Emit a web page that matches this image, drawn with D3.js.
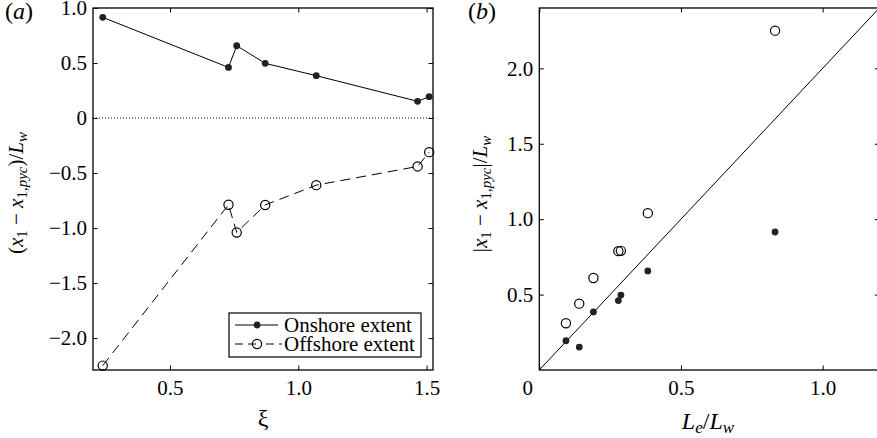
<!DOCTYPE html>
<meta charset="utf-8">
<script src="https://d3js.org/d3.v7.min.js"></script>
<style>
  body { margin: 0; background: #fff; }
  text { font-family: "Liberation Serif", "Times New Roman", serif; fill: #000; }
  .axis path { display: none; }
  .axis line { stroke: #000; stroke-width: 1; }
  .axis text { font-size: 21px; }
</style>
<div id="my_dataviz"></div>
<script>

  // data (same seven runs in both panels)
  var xi       = [0.238, 0.728, 0.76, 0.871, 1.07, 1.465, 1.51];
  var onshore  = [0.915, 0.46, 0.657, 0.497, 0.385, 0.152, 0.194];
  var offshore = [-2.25, -0.788, -1.04, -0.79, -0.61, -0.44, -0.31];
  var leLw     = [0.832, 0.279, 0.383, 0.288, 0.191, 0.141, 0.094];
  var refSlope = 2;

  var xTicksA = [0.5, 1.0, 1.5];
  var yTicksA = [1.0, 0.5, 0, -0.5, -1.0, -1.5, -2.0];
  var xTicksB = [0, 0.5, 1.0];
  var yTicksB = [0.5, 1.0, 1.5, 2.0];

  var W = 877, H = 438;
  var pw = 340, ph = 362;

  var svg = d3.select("#my_dataviz").append("svg")
    .attr("width", W).attr("height", H);

  var fmt = function(d) { return d === 0 ? "0" : d3.format(".1f")(d); };

  function frame(g, x, y, xt, yt) {
    g.append("g").attr("class", "axis")
      .attr("transform", "translate(0," + ph + ")")
      .call(d3.axisBottom(x).tickValues(xt).tickSizeInner(-4.5).tickSizeOuter(0).tickPadding(10).tickFormat(fmt));
    g.append("g").attr("class", "axis")
      .call(d3.axisTop(x).tickValues(xt).tickSizeInner(-4.5).tickSizeOuter(0).tickFormat(""));
    g.append("g").attr("class", "axis")
      .call(d3.axisLeft(y).tickValues(yt).tickSizeInner(-4.5).tickSizeOuter(0).tickPadding(6).tickFormat(fmt));
    g.append("g").attr("class", "axis")
      .attr("transform", "translate(" + pw + ",0)")
      .call(d3.axisRight(y).tickValues(yt).tickSizeInner(-4.5).tickSizeOuter(0).tickFormat(""));
    g.append("rect")
      .attr("width", pw).attr("height", ph)
      .style("fill", "none").style("stroke", "#000").style("stroke-width", 1.3);
  }

  // ---------- panel (a)
  var ga = svg.append("g").attr("transform", "translate(93,8)");
  var xa = d3.scaleLinear().domain([0.2, 1.525]).range([0, pw]);
  var ya = d3.scaleLinear().domain([-2.29, 1.0]).range([ph, 0]);

  ga.append("line")
    .attr("x1", 0).attr("x2", pw).attr("y1", ya(0)).attr("y2", ya(0))
    .style("stroke", "#000").style("stroke-width", 1).style("stroke-dasharray", "1,2");

  var lineA = d3.line().x(function(d) { return xa(d[0]); }).y(function(d) { return ya(d[1]); });

  ga.append("path")
    .datum(d3.zip(xi, onshore))
    .attr("d", lineA)
    .style("fill", "none").style("stroke", "#000").style("stroke-width", 1);

  ga.append("path")
    .datum(d3.zip(xi, offshore))
    .attr("d", lineA)
    .style("fill", "none").style("stroke", "#000").style("stroke-width", 1)
    .style("stroke-dasharray", "10,6");

  ga.selectAll("circle.on")
    .data(d3.zip(xi, onshore))
    .enter().append("circle").attr("class", "on")
      .attr("cx", function(d) { return xa(d[0]); })
      .attr("cy", function(d) { return ya(d[1]); })
      .attr("r", 3.4)
      .style("fill", "#222");

  ga.selectAll("circle.off")
    .data(d3.zip(xi, offshore))
    .enter().append("circle").attr("class", "off")
      .attr("cx", function(d) { return xa(d[0]); })
      .attr("cy", function(d) { return ya(d[1]); })
      .attr("r", 4.6)
      .style("fill", "none").style("stroke", "#000").style("stroke-width", 1.2);

  frame(ga, xa, ya, xTicksA, yTicksA);

  // legend
  var lg = ga.append("g");
  lg.append("rect")
    .attr("x", 136).attr("y", 305).attr("width", 192).attr("height", 44)
    .style("fill", "#fff").style("stroke", "#000").style("stroke-width", 1.2);
  lg.append("line").attr("x1", 142).attr("x2", 185).attr("y1", 317).attr("y2", 317)
    .style("stroke", "#000");
  lg.append("circle").attr("cx", 164).attr("cy", 317).attr("r", 3.4).style("fill", "#222");
  lg.append("line").attr("x1", 142).attr("x2", 189).attr("y1", 336).attr("y2", 336)
    .style("stroke", "#000").style("stroke-dasharray", "8,5,8,5,1,4");
  lg.append("circle").attr("cx", 164).attr("cy", 336).attr("r", 4.6)
    .style("fill", "none").style("stroke", "#000").style("stroke-width", 1.2);
  lg.append("text").attr("x", 191).attr("y", 324).style("font-size", "21px").text("Onshore extent");
  lg.append("text").attr("x", 191).attr("y", 343).style("font-size", "21px").text("Offshore extent");

  // ---------- panel (b)
  var gb = svg.append("g").attr("transform", "translate(539.3,8)");
  var xb = d3.scaleLinear().domain([0, 1.2]).range([0, pw]);
  var yb = d3.scaleLinear().domain([0, 2.4]).range([ph, 0]);

  gb.append("line")
    .attr("x1", xb(0)).attr("y1", yb(0))
    .attr("x2", xb(1.2)).attr("y2", yb(1.2 * refSlope))
    .style("stroke", "#000").style("stroke-width", 1);

  gb.selectAll("circle.off")
    .data(d3.zip(leLw, offshore))
    .enter().append("circle").attr("class", "off")
      .attr("cx", function(d) { return xb(d[0]); })
      .attr("cy", function(d) { return yb(Math.abs(d[1])); })
      .attr("r", 4.6)
      .style("fill", "none").style("stroke", "#000").style("stroke-width", 1.2);

  gb.selectAll("circle.on")
    .data(d3.zip(leLw, onshore))
    .enter().append("circle").attr("class", "on")
      .attr("cx", function(d) { return xb(d[0]); })
      .attr("cy", function(d) { return yb(Math.abs(d[1])); })
      .attr("r", 3.4)
      .style("fill", "#222");

  frame(gb, xb, yb, xTicksB, yTicksB);
  gb.selectAll(".axis text").filter(function(d) { return d === 0; }).attr("dx", -12);

  // ---------- labels
  svg.append("text").attr("x", 5).attr("y", 19).style("font-size", "24px")
    .html('(<tspan font-style="italic">a</tspan>)');
  svg.append("text").attr("x", 468).attr("y", 19).style("font-size", "24px")
    .html('(<tspan font-style="italic">b</tspan>)');

  svg.append("text")
    .attr("transform", "translate(23,193) rotate(-90)")
    .attr("text-anchor", "middle").style("font-size", "21px")
    .html('(<tspan font-style="italic">x</tspan><tspan dy="4" font-size="15">1</tspan>' +
          '<tspan dy="-4"> − </tspan><tspan font-style="italic">x</tspan>' +
          '<tspan dy="4" font-size="15">1,<tspan font-style="italic">pyc</tspan></tspan>' +
          '<tspan dy="-4">)/</tspan><tspan font-style="italic">L</tspan>' +
          '<tspan dy="4" font-size="15" font-style="italic">w</tspan>');

  svg.append("text")
    .attr("transform", "translate(487,194) rotate(-90)")
    .attr("text-anchor", "middle").style("font-size", "21px")
    .html('|<tspan font-style="italic">x</tspan><tspan dy="4" font-size="15">1</tspan>' +
          '<tspan dy="-4"> − </tspan><tspan font-style="italic">x</tspan>' +
          '<tspan dy="4" font-size="15">1,<tspan font-style="italic">pyc</tspan></tspan>' +
          '<tspan dy="-4">|/</tspan><tspan font-style="italic">L</tspan>' +
          '<tspan dy="4" font-size="15" font-style="italic">w</tspan>');

  svg.append("text").attr("x", 263).attr("y", 426)
    .attr("text-anchor", "middle").style("font-size", "24px").text("ξ");

  svg.append("text").attr("x", 708).attr("y", 429)
    .attr("text-anchor", "middle").style("font-size", "24px")
    .html('<tspan font-style="italic">L</tspan><tspan dy="4" font-size="17" font-style="italic">e</tspan>' +
          '<tspan dy="-4">/</tspan><tspan font-style="italic">L</tspan>' +
          '<tspan dy="4" font-size="17" font-style="italic">w</tspan>');

</script>
